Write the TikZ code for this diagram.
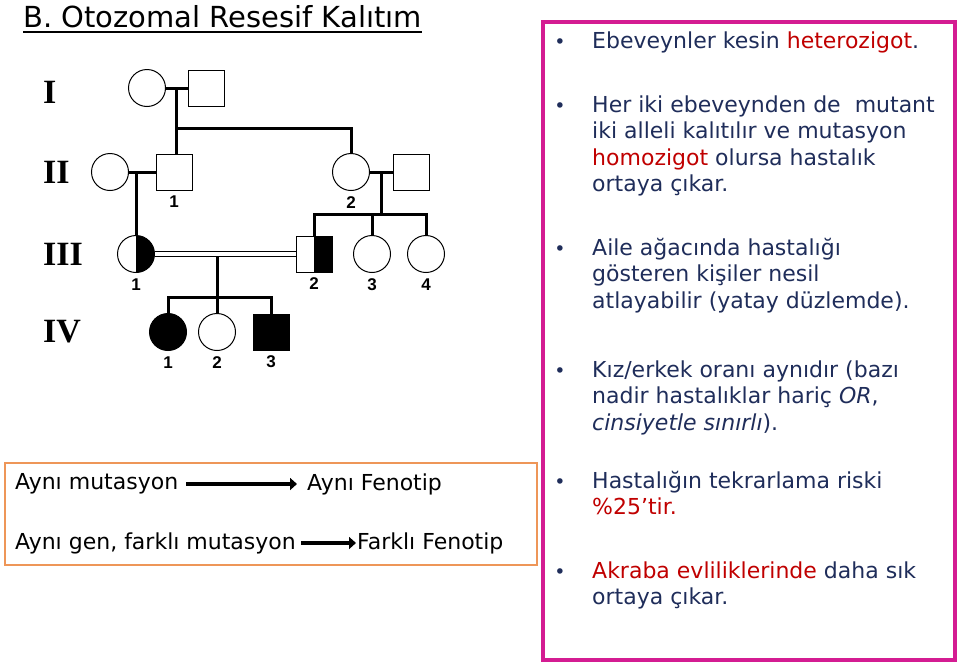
\documentclass[tikz,border=0pt]{standalone}
\usepackage{fontspec}
\setmainfont{DejaVu Sans}
\newfontfamily\genfont{Liberation Serif}
\newfontfamily\numfont{Liberation Sans}
\usetikzlibrary{positioning,arrows.meta}
\definecolor{navy}{RGB}{31,45,90}
\definecolor{redtxt}{RGB}{192,0,0}
\definecolor{pinkbox}{RGB}{212,28,146}
\definecolor{orangebox}{RGB}{238,150,88}
\tikzset{
 fem/.style={circle, draw, line width=1pt, minimum size=37pt, inner sep=0pt},
 mal/.style={rectangle, draw, line width=1pt, minimum size=36pt, inner sep=0pt},
 half/.style={path picture={\fill[black] (path picture bounding box.north) rectangle (path picture bounding box.south east);}},
 tie/.style={line width=3pt},
 num/.style={font=\numfont\bfseries\fontsize{17}{17}\selectfont, inner sep=0pt, text height=12pt, text depth=0pt},
 gen/.style={font=\genfont\bfseries\fontsize{34}{34}\selectfont, anchor=west, inner sep=0pt},
 item/.style={anchor=base west, inner sep=0pt, align=left, text=navy, font=\fontsize{22}{26.5}\selectfont},
 dot/.style={anchor=base, inner sep=0pt, text=navy, font=\fontsize{19}{19}\selectfont},
 plain/.style={anchor=west, inner sep=0pt, font=\fontsize{22}{22}\selectfont},
 fatarrow/.style={line width=4pt, -{Triangle[length=7pt,width=12pt]}},
}
\begin{document}
\begin{tikzpicture}[x=1pt, y=-1pt]
\useasboundingbox (0,0) rectangle (960,667);
% title
\node[anchor=base west, inner sep=0pt, font=\fontsize{29}{29}\selectfont](title) at (23,27){B. Otozomal Resesif Kalıtım};
\draw[line width=1.5pt] ([yshift=-5pt]title.base west) -- ([yshift=-5pt]title.base east);
% generations
\node[gen](gI) at (43,92){I};
\node[gen](gII) at (43,172){II};
\node[gen](gIII) at (43,254){III};
\node[gen](gIV) at (43,332){IV};
% pedigree
\node[fem](I1) at (147,88){};
\node[mal](I2) at (206,88){};
\node[fem](IIs) at (110,172){};
\node[mal](II1) at (174,172){};
\node[fem](II2) at (351,172){};
\node[mal](IIt) at (411,172){};
\node[fem, half](III1) at (136,254){};
\node[mal, half](III2) at (314,254){};
\node[fem](III3) at (372,254){};
\node[fem](III4) at (426,254){};
\node[fem, fill](IV1) at (168,332){};
\node[fem](IV2) at (217,332){};
\node[mal, fill](IV3) at (271,332){};
% numbers
\foreach \who/\n in {II1/1,II2/2,III1/1,III2/2,III3/3,III4/4,IV1/1,IV2/2,IV3/3}
 \node[num, below=5pt of \who](n\who){\n};
% lines
\draw[tie] (I1) -- (I2);
\path (I1) -- (I2) coordinate[midway] (mI);
\draw[tie] (mI) -- (mI |- II1.north);
\draw[tie] (mI) ++(0,40) -| (II2.north);
\draw[tie] (IIs) -- (II1);
\draw[tie] (III1 |- IIs) -- (III1.north);
\draw[tie] (II2) -- (IIt);
\path (II2) -- (IIt) coordinate[midway] (mII);
\draw[tie] (mII) -- ++(0,42) coordinate (sII);
\draw[tie] (III2.north) |- (sII) -| (III4.north);
\draw[tie] (sII -| III3) -- (III3.north);
\draw[line width=1.5pt, double, double distance=3.5pt] (III1) -- (III2);
\draw[tie] (IV2 |- III1) ++(0,3) -- ++(0,40) coordinate (sIII);
\draw[tie] (IV1.north) |- (sIII) -| (IV3.north);
\draw[tie] (sIII) -- (IV2.north);
% right box
\draw[pinkbox, line width=4pt] (543,22) rectangle (955,660);
\foreach \y [count=\i] in {48,112,255,377,488,578}
 \node[dot](b\i) at (560,\y){•};
\node[item](e1) at (592,48){Ebeveynler kesin {\color{redtxt}heterozigot}.};
\node[item](e2) at (592,191.5){Her iki ebeveynden de\ \ mutant\\iki alleli kalıtılır ve mutasyon\\{\color{redtxt}homozigot} olursa hastalık\\ortaya çıkar.};
\node[item](e3) at (592,308){Aile ağacında hastalığı\\gösteren kişiler nesil\\atlayabilir (yatay düzlemde).};
\node[item](e4) at (592,430){Kız/erkek oranı aynıdır (bazı\\nadir hastalıklar hariç \textit{OR},\\\textit{cinsiyetle sınırlı}).};
\node[item](e5) at (592,514.5){Hastalığın tekrarlama riski\\{\color{redtxt}\%25'tir.}};
\node[item](e6) at (592,604.5){{\color{redtxt}Akraba evliliklerinde} daha sık\\ortaya çıkar.};
% lower box
\draw[orangebox, line width=2pt] (5,463) rectangle (537,565);
\node[plain](a1) at (15,484){Aynı mutasyon};
\node[plain](a2) at (307,484){Aynı Fenotip};
\node[plain](f1) at (15,543){Aynı gen, farklı mutasyon};
\node[plain](f2) at (357,543){Farklı Fenotip};
\draw[fatarrow, shorten <=8pt, shorten >=10pt] (a1) -- (a2);
\draw[fatarrow, line width=3.5pt, shorten <=5pt, shorten >=1pt] (f1) -- (f2);
\end{tikzpicture}
\end{document}
